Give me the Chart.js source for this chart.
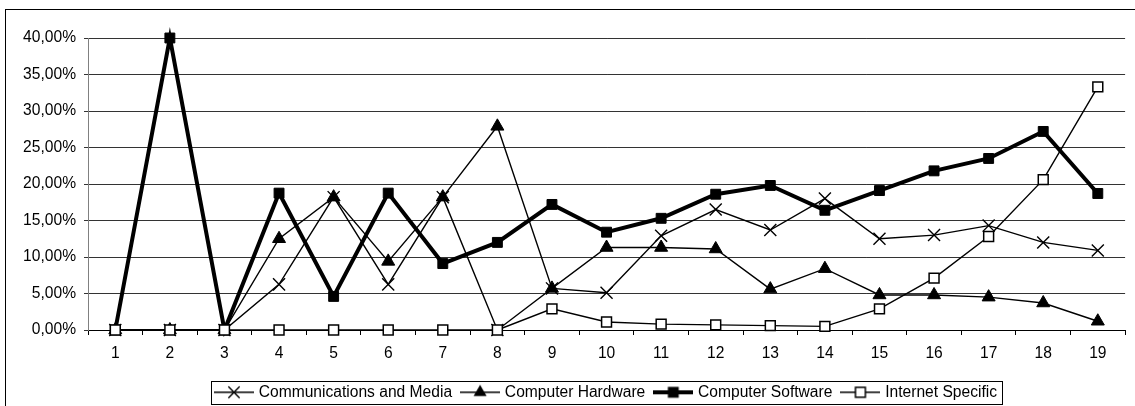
<!DOCTYPE html>
<html>
<head>
<meta charset="utf-8">
<script src="https://cdn.jsdelivr.net/npm/chart.js@4/dist/chart.umd.min.js"></script>
<style>
  html, body { margin: 0; padding: 0; background: #ffffff; }
  #wrap { position: relative; width: 1135px; height: 406px; }
</style>
</head>
<body>
<div id="wrap"><canvas id="c" width="1135" height="406"></canvas></div>
<script>
const categories = ['1','2','3','4','5','6','7','8','9','10','11','12','13','14','15','16','17','18','19'];
const seriesNames = ['Communications and Media', 'Computer Hardware', 'Computer Software', 'Internet Specific'];
const commsMedia = [0, 0, 0, 6.25, 18.2, 6.25, 18.2, 0, 5.7, 5.1, 12.9, 16.5, 13.7, 18.0, 12.5, 13.0, 14.3, 12.0, 10.9];
const compHardware = [0, 0, 0, 12.5, 18.2, 9.4, 18.2, 27.9, 5.7, 11.3, 11.3, 11.1, 5.6, 8.4, 4.8, 4.8, 4.5, 3.7, 1.2];
const compSoftware = [0, 40, 0, 18.75, 4.6, 18.75, 9.1, 12.0, 17.2, 13.4, 15.3, 18.6, 19.8, 16.4, 19.1, 21.8, 23.5, 27.2, 18.7];
const internetSpecific = [0, 0, 0, 0, 0, 0, 0, 0, 2.9, 1.1, 0.8, 0.7, 0.6, 0.5, 2.9, 7.1, 12.8, 20.6, 33.3];
const yTicks = [0, 5, 10, 15, 20, 25, 30, 35, 40];

const FONT = "'Liberation Sans', Arial, sans-serif";
const FSIZE = 15.6;

function legendSymbol(style, lineW, markerFill, r, markerBorder) {
  const cv = document.createElement('canvas');
  cv.width = 40; cv.height = 16;
  const ctx = cv.getContext('2d');
  ctx.strokeStyle = '#000';
  ctx.lineWidth = lineW;
  ctx.beginPath(); ctx.moveTo(0, 8); ctx.lineTo(40, 8); ctx.stroke();
  const cx = 20, cy = 8;
  ctx.lineWidth = markerBorder;
  if (style === 'crossRot') {
    const d = r * Math.SQRT1_2;
    ctx.beginPath();
    ctx.moveTo(cx - d, cy - d); ctx.lineTo(cx + d, cy + d);
    ctx.moveTo(cx + d, cy - d); ctx.lineTo(cx - d, cy + d);
    ctx.stroke();
  } else if (style === 'triangle') {
    ctx.fillStyle = '#000';
    ctx.beginPath();
    ctx.moveTo(cx, cy - r);
    ctx.lineTo(cx + r * 0.866, cy + r * 0.5);
    ctx.lineTo(cx - r * 0.866, cy + r * 0.5);
    ctx.closePath(); ctx.fill();
  } else {
    const s = r * Math.SQRT1_2;
    ctx.fillStyle = markerFill;
    ctx.fillRect(cx - s, cy - s, 2 * s, 2 * s);
    ctx.strokeRect(cx - s, cy - s, 2 * s, 2 * s);
  }
  return cv;
}

const legendSymbols = [
  legendSymbol('crossRot', 1.4, '#000', 8, 1.4),
  legendSymbol('triangle', 1.4, '#000', 7.5, 1),
  legendSymbol('rect', 4, '#000', 7, 1),
  legendSymbol('rect', 1.4, '#fff', 7, 1.5)
];

const LEGEND_SHIFT = 44;

const framePlugin = {
  id: 'frame',
  afterLayout(chart) {
    const lg = chart.legend;
    if (lg) { lg.left += LEGEND_SHIFT; lg.right += LEGEND_SHIFT; }
  },
  beforeDraw(chart) {
    const ctx = chart.ctx;
    ctx.save();
    ctx.fillStyle = '#fff';
    ctx.fillRect(0, 0, chart.width, chart.height);
    ctx.strokeStyle = '#000';
    ctx.lineWidth = 1;
    ctx.strokeRect(5.5, 9.5, 1300, 600);
    ctx.restore();
  },
  afterDraw(chart) {
    const lg = chart.legend;
    if (!lg || !lg.legendHitBoxes || !lg.legendHitBoxes.length) return;
    const hb = lg.legendHitBoxes;
    let l = Infinity, r = -Infinity;
    hb.forEach(h => { l = Math.min(l, h.left); r = Math.max(r, h.left + h.width); });
    const ctx = chart.ctx;
    ctx.save();
    ctx.strokeStyle = '#000';
    ctx.lineWidth = 1;
    const top = Math.round(hb[0].top + hb[0].height / 2 - 11.5) + 0.5;
    ctx.strokeRect(Math.round(l - 6) + 0.5, top, Math.round(r - l + 11), 23);
    ctx.restore();
  }
};

const ds = (label, data, style, radius, fill, bw, lw, order) => ({
  label, data, order,
  borderColor: '#000', backgroundColor: fill,
  borderWidth: lw, pointStyle: style, pointRadius: radius,
  pointBorderWidth: bw, pointBorderColor: '#000', pointBackgroundColor: fill,
  pointHoverRadius: radius, tension: 0, clip: false, fill: false
});

const LEGEND_H = 32.5;

new Chart(document.getElementById('c'), {
  type: 'line',
  data: {
    labels: categories,
    datasets: [
      ds(seriesNames[0], commsMedia, 'crossRot', 8.5, '#000', 1.4, 1.4, 4),
      ds(seriesNames[1], compHardware, 'triangle', 7.5, '#000', 1, 1.4, 3),
      ds(seriesNames[2], compSoftware, 'rect', 7, '#000', 1, 4, 2),
      ds(seriesNames[3], internetSpecific, 'rect', 7, '#fff', 1.5, 1.4, 1)
    ]
  },
  options: {
    responsive: false,
    animation: false,
    devicePixelRatio: 1,
    layout: { padding: { left: 0, top: 38, right: 9, bottom: 0 } },
    events: [],
    scales: {
      x: {
        type: 'category',
        offset: true,
        grid: { offset: true, drawOnChartArea: false, drawTicks: true, tickLength: 5, color: '#000', lineWidth: 1 },
        border: { display: true, color: '#000', width: 1 },
        ticks: { color: '#000', font: { family: FONT, size: FSIZE }, padding: 9, maxRotation: 0, autoSkip: false },
        afterFit(scale) { scale.height = 406 - LEGEND_H - 330; }
      },
      y: {
        min: 0, max: 40,
        afterBuildTicks(scale) { scale.ticks = yTicks.map(v => ({ value: v })); },
        grid: { color: '#333333', lineWidth: 1, drawTicks: true, tickLength: 4 },
        border: { display: true, color: '#808080', width: 1 },
        ticks: {
          color: '#000', font: { family: FONT, size: FSIZE }, padding: 8,
          callback: v => v.toFixed(2).replace('.', ',') + '%'
        },
        afterFit(scale) { scale.width = 88; }
      }
    },
    plugins: {
      tooltip: { enabled: false },
      title: { display: false },
      legend: {
        display: true,
        position: 'bottom',
        maxHeight: LEGEND_H,
        labels: {
          usePointStyle: true,
          pointStyleWidth: 34,
          padding: 11,
          color: '#000',
          font: { family: FONT, size: FSIZE },
          generateLabels(chart) {
            return chart.data.datasets.map((d, i) => ({
              text: d.label,
              fillStyle: '#000',
              strokeStyle: '#000',
              lineWidth: 0,
              pointStyle: legendSymbols[i],
              hidden: false,
              datasetIndex: i,
              fontColor: '#000'
            }));
          }
        }
      }
    }
  },
  plugins: [framePlugin]
});
</script>
</body>
</html>
